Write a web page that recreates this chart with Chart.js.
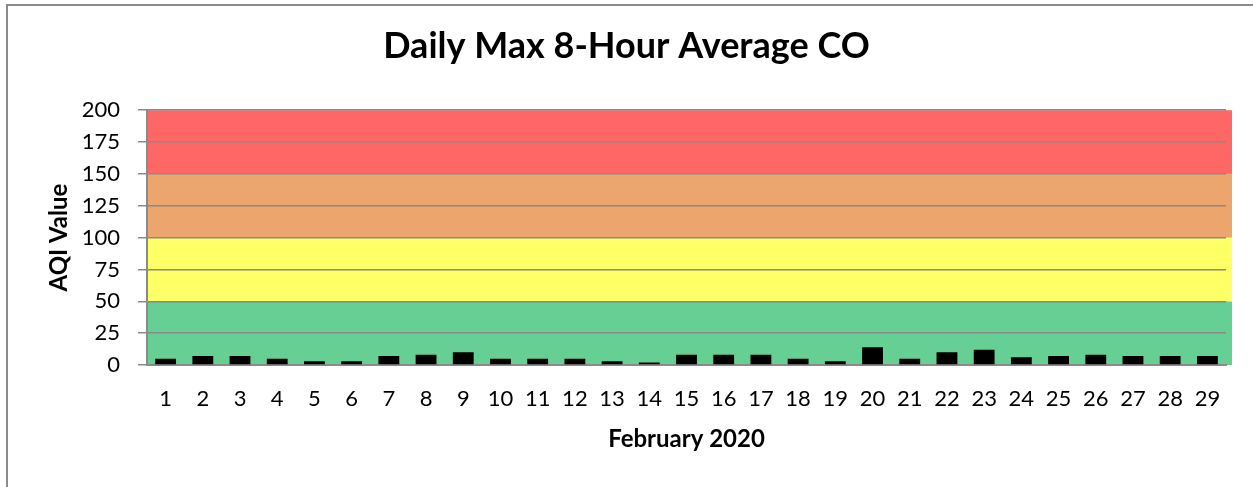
<!DOCTYPE html>
<html>
<head>
<meta charset="utf-8">
<script src="https://cdn.jsdelivr.net/npm/chart.js@4/dist/chart.umd.min.js"></script>
<style>
  html, body { margin: 0; padding: 0; background: #fff; }
  #wrap { position: relative; width: 1253px; height: 487px; }
  #frame { position: absolute; left: 6px; top: 4px; right: 0; bottom: 0; border-left: 2px solid #8a8a8a; border-top: 2px solid #8a8a8a; pointer-events: none; }
  canvas { display: block; }
</style>
</head>
<body>
<div id="wrap">
  <canvas id="c" width="1253" height="487"></canvas>
  <div id="frame"></div>
</div>
<script>
const days = ['1','2','3','4','5','6','7','8','9','10','11','12','13','14','15','16','17','18','19','20','21','22','23','24','25','26','27','28','29'];
const aqiValues = [5,7,7,5,3,3,7,8,10,5,5,5,3,2,8,8,8,5,3,14,5,10,12,6,7,8,7,7,7];
const yTicks = [0,25,50,75,100,125,150,175,200];
const bandLimits = [0,50,100,150,200];
const bandColors = ['#66CF94','#FFFF66','#EDA56E','#FF6666'];

const FONT = 'Lato, "Open Sans", sans-serif';

const bandsPlugin = {
  id: 'bands',
  beforeDraw(chart) {
    const {ctx, chartArea, scales} = chart;
    const y = scales.y;
    ctx.save();
    for (let i = 0; i < bandColors.length; i++) {
      const top = y.getPixelForValue(bandLimits[i + 1]);
      const bot = y.getPixelForValue(bandLimits[i]);
      ctx.fillStyle = bandColors[i];
      ctx.fillRect(chartArea.left, top, chartArea.right - chartArea.left + 6, bot - top);
    }
    ctx.restore();
  }
};

new Chart(document.getElementById('c'), {
  type: 'bar',
  data: {
    labels: days,
    datasets: [{
      data: aqiValues,
      backgroundColor: '#000000',
      borderWidth: 0,
      barPercentage: 0.56,
      categoryPercentage: 1.0
    }]
  },
  options: {
    responsive: false,
    animation: false,
    events: [],
    layout: { padding: 0 },
    plugins: {
      legend: { display: false },
      tooltip: { enabled: false },
      title: {
        display: true,
        text: 'Daily Max 8-Hour Average CO',
        color: '#000',
        font: { family: FONT, size: 36, weight: 'bold' },
        padding: { top: 25, bottom: 42 }
      }
    },
    scales: {
      x: {
        grid: { display: false, drawTicks: false },
        border: { display: true, color: '#8a8a8a', width: 2 },
        ticks: { color: '#000', font: { family: FONT, size: 22 }, padding: 21, maxRotation: 0, autoSkip: false },
        title: { display: true, text: 'February 2020', color: '#000', font: { family: FONT, size: 24, weight: 'bold' }, padding: { top: 0, bottom: 33 } },
        afterFit(scale) { scale.height = 122; }
      },
      y: {
        min: 0, max: 200,
        afterBuildTicks(scale) { scale.ticks = yTicks.map(v => ({ value: v })); },
        grid: { color: '#8a8a8a', lineWidth: 1.5, tickLength: 9, drawOnChartArea: true },
        border: { display: true, color: '#8a8a8a', width: 2 },
        ticks: { color: '#000', font: { family: FONT, size: 22 }, padding: 18 },
        title: { display: true, text: 'AQI Value', color: '#000', font: { family: FONT, size: 24, weight: 'bold' }, padding: { top: 45, bottom: 0 } },
        afterFit(scale) { scale.width = 147; }
      },
      yRight: {
        type: 'linear',
        position: 'right',
        display: true,
        min: 0, max: 200,
        grid: { display: false, drawOnChartArea: false, drawTicks: false },
        border: { display: false },
        ticks: { display: false },
        afterFit(scale) { scale.width = 27; }
      }
    }
  },
  plugins: [bandsPlugin]
});
</script>
</body>
</html>
